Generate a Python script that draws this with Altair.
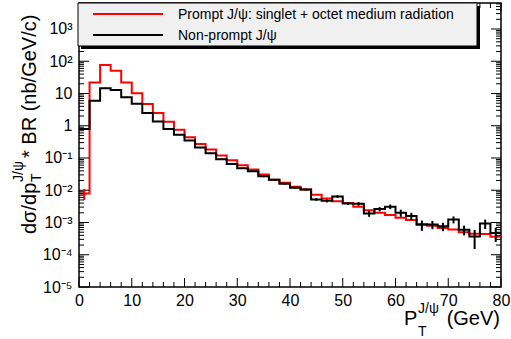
import altair as alt
import pandas as pd

FONT = "Liberation Sans"

# ---- data ----
bin_edges = list(range(0, 82, 2))  # 0..80 GeV, 2 GeV bins

prompt = [0.008, 22, 76, 51, 22, 10.2, 4.7, 2.5, 1.33, 0.75,
          0.44, 0.27, 0.185, 0.12, 0.085, 0.06, 0.044, 0.031, 0.021, 0.017,
          0.0128, 0.0106, 0.0072, 0.0055, 0.0046, 0.0040, 0.0031, 0.0024, 0.0020, 0.0017,
          0.0014, 0.0012, 0.00090, 0.00080, 0.00068, 0.00061, 0.00050, 0.00045, 0.00044, 0.00036]
prompt_err = [0.003] + [0.0] * 39

nonprompt = [0.8, 6.0, 14.6, 12.9, 7.7, 4.8, 2.5, 1.36, 0.79, 0.53,
             0.35, 0.21, 0.14, 0.092, 0.065, 0.048, 0.039, 0.027, 0.021, 0.016,
             0.012, 0.0105, 0.0052, 0.0047, 0.0064, 0.0039, 0.0038, 0.0019, 0.0026, 0.0031,
             0.0020, 0.0016, 0.00085, 0.00087, 0.00076, 0.00124, 0.00060, 0.00037, 0.00093, 0.00047]
nonprompt_err = [0.05, 0.2, 0.4, 0.35, 0.25, 0.15, 0.08, 0.05, 0.03, 0.02,
                 0.014, 0.009, 0.006, 0.004, 0.003, 0.0025, 0.002, 0.0015, 0.0012, 0.001,
                 0.0008, 0.0008, 0.0005, 0.0005, 0.0006, 0.0004, 0.0005, 0.0004, 0.0004, 0.0005,
                 0.0005, 0.0004, 0.0003, 0.00025, 0.00022, 0.0003, 0.0002, 0.00022, 0.0003, 0.00022]

x_major = [0, 10, 20, 30, 40, 50, 60, 70, 80]
y_decades = [1e-5, 1e-4, 1e-3, 1e-2, 1e-1, 1, 10, 100, 1000]
y_labels = ["10⁻⁵", "10⁻⁴", "10⁻³", "10⁻²", "10⁻¹", "1", "10", "10²", "10³"]

# ---- layout ----
W, H = 422, 284
LEFT, TOP = 79, 3
YMIN, YMAX = 1e-5, 6400
TF = 20  # title font size

xs = alt.Scale(domain=[0, 80], nice=False, zero=False)
ys = alt.Scale(type="log", domain=[YMIN, YMAX], nice=False)


def step_df(vals):
    return pd.DataFrame({"x": bin_edges, "y": vals + [vals[-1]]})


def err_df(vals, errs):
    centers = [e + 1 for e in bin_edges[:-1]]
    return pd.DataFrame({"x": centers, "lo": [v - e for v, e in zip(vals, errs)],
                         "hi": [v + e for v, e in zip(vals, errs)]})


label_expr = "[" + ",".join(f"'{s}'" for s in y_labels) + "][round(log(datum.value)/LN10)+5]"

red_step = alt.Chart(step_df(prompt)).mark_line(interpolate="step-after", color="#ff0000", strokeWidth=2).encode(
    x=alt.X("x:Q", scale=xs, axis=alt.Axis(values=x_major, title=None, labelPadding=5, labelFontSize=16,
                                           labelFont=FONT, labelColor="black", labelFlush=False,
                                           ticks=False, domain=False, grid=False)),
    y=alt.Y("y:Q", scale=ys, axis=alt.Axis(values=y_decades, labelExpr=label_expr, title=None, labelPadding=7,
                                           labelFontSize=16, labelFont=FONT, labelColor="black",
                                           ticks=False, domain=False, grid=False)),
)
black_step = alt.Chart(step_df(nonprompt)).mark_line(interpolate="step-after", color="black", strokeWidth=2).encode(
    x=alt.X("x:Q", scale=xs), y=alt.Y("y:Q", scale=ys))

red_err = alt.Chart(err_df(prompt, prompt_err)).mark_rule(color="#ff0000", strokeWidth=2).encode(
    x=alt.X("x:Q", scale=xs), y=alt.Y("lo:Q", scale=ys), y2="hi:Q")
black_err = alt.Chart(err_df(nonprompt, nonprompt_err)).mark_rule(color="black", strokeWidth=2).encode(
    x=alt.X("x:Q", scale=xs), y=alt.Y("lo:Q", scale=ys), y2="hi:Q")

# ---- inward ticks (ROOT style) ----
x_minor = [v for v in range(0, 81, 2) if v % 10 != 0]
y_minor = [k * d for d in y_decades for k in range(2, 10) if k * d <= YMAX]

xt_major = pd.DataFrame({"x": x_major})
xt_minor = pd.DataFrame({"x": x_minor})
yt_major = pd.DataFrame({"y": y_decades})
yt_minor = pd.DataFrame({"y": y_minor})

tick_layers = []
for df, ln in [(xt_major, 9), (xt_minor, 5)]:
    tick_layers.append(alt.Chart(df).mark_rule(color="black", strokeWidth=1).encode(
        x=alt.X("x:Q", scale=xs), y=alt.value(H), y2=alt.value(H - ln)))
    tick_layers.append(alt.Chart(df).mark_rule(color="black", strokeWidth=1).encode(
        x=alt.X("x:Q", scale=xs), y=alt.value(0), y2=alt.value(ln)))
for df, ln in [(yt_major, 10), (yt_minor, 5)]:
    tick_layers.append(alt.Chart(df).mark_rule(color="black", strokeWidth=1).encode(
        y=alt.Y("y:Q", scale=ys), x=alt.value(0), x2=alt.value(ln)))
    tick_layers.append(alt.Chart(df).mark_rule(color="black", strokeWidth=1).encode(
        y=alt.Y("y:Q", scale=ys), x=alt.value(W), x2=alt.value(W - ln)))

one = pd.DataFrame({"a": [1]})


def txt(text, x, y, size, angle=0, align="left", baseline="alphabetic"):
    return alt.Chart(one).mark_text(text=text, fontSize=size, font=FONT, align=align, baseline=baseline,
                                    angle=angle, color="black").encode(
        x=alt.value(x - LEFT), y=alt.value(y - TOP))


# ---- legend box ----
shadow = alt.Chart(one).mark_rect(color="black").encode(
    x=alt.value(81 - LEFT), x2=alt.value(480 - LEFT), y=alt.value(6 - TOP), y2=alt.value(49 - TOP))
box = alt.Chart(one).mark_rect(fill="#f0f0f0", stroke="black", strokeWidth=1).encode(
    x=alt.value(78 - LEFT), x2=alt.value(477 - LEFT), y=alt.value(3 - TOP), y2=alt.value(46 - TOP))
leg_red = alt.Chart(one).mark_rule(color="#ff0000", strokeWidth=2).encode(
    x=alt.value(93 - LEFT), x2=alt.value(163 - LEFT), y=alt.value(14 - TOP))
leg_black = alt.Chart(one).mark_rule(color="black", strokeWidth=2).encode(
    x=alt.value(93 - LEFT), x2=alt.value(163 - LEFT), y=alt.value(35 - TOP))
leg_t1 = txt("Prompt J/ψ: singlet + octet medium radiation", 178, 15, 14, baseline="middle")
leg_t2 = txt("Non-prompt J/ψ", 178, 36, 14, baseline="middle")

# ---- axis titles built from pieces (sub/superscripts) ----
xt_P = txt("P", 404, 325, TF)
xt_T = txt("T", 418, 336, 14)
xt_J = txt("J/ψ", 418, 313, 14)
xt_G = txt("(GeV)", 500, 325, TF, align="right")

yt_d = txt("dσ/dp", 36, 234, TF, angle=270)
yt_T = txt("T", 41, 182, 14, angle=270)
yt_J = txt("J/ψ", 23, 182, 14, angle=270)
yt_r = txt("* BR (nb/GeV/c)", 36, 158, TF, angle=270)

chart = alt.layer(
    red_step, *tick_layers, black_step, red_err, black_err,
    shadow, box, leg_red, leg_black, leg_t1, leg_t2,
    xt_P, xt_T, xt_J, xt_G, yt_d, yt_T, yt_J, yt_r,
).properties(
    width=W, height=H,
    padding={"left": LEFT, "top": TOP, "right": 511 - LEFT - W, "bottom": 339 - TOP - H},
    autosize=alt.AutoSizeParams(type="none"),
    background="white",
).configure_view(stroke="black", strokeWidth=1.5)

chart.save("out.html", embed_options={"renderer": "svg", "actions": False})
